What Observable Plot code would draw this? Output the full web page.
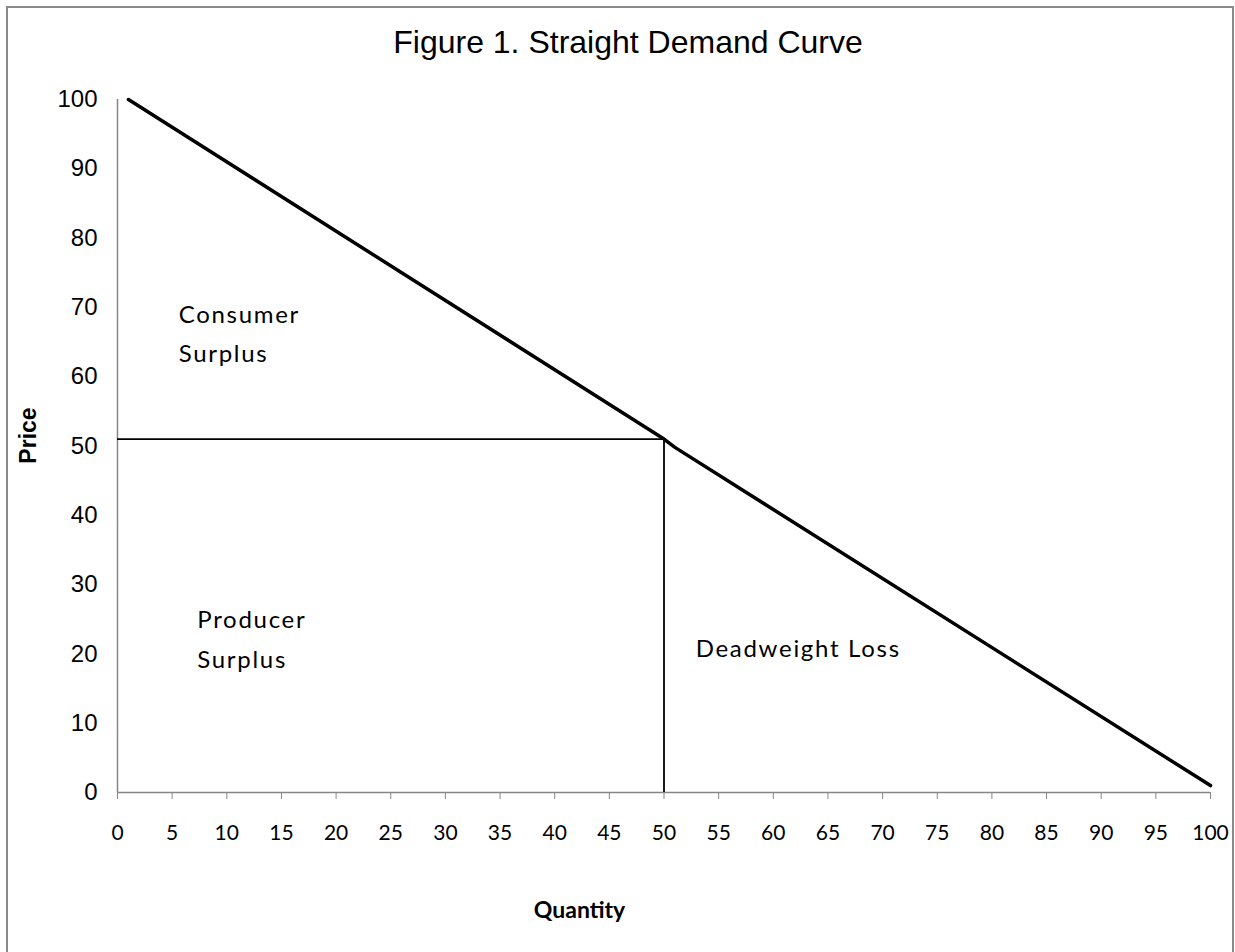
<!DOCTYPE html>
<html><head><meta charset="utf-8">
<script src="https://cdn.jsdelivr.net/npm/d3@7"></script>
<script src="https://cdn.jsdelivr.net/npm/@observablehq/plot@0.6"></script>
<style>
body{margin:0;background:#fff;}
#wrap{position:relative;width:1235px;height:952px;overflow:hidden;background:#fff;}
#frame{position:absolute;left:6px;top:6px;width:1228px;height:1000px;border:2px solid #8a8a8a;box-sizing:border-box;pointer-events:none;}
#title{position:relative;height:70px;}
#title div{position:absolute;left:0;width:1256px;top:26px;text-align:center;font-family:"Liberation Sans",Arial,sans-serif;font-size:32px;line-height:1;color:#000;}
#chart svg{display:block;}
#chart svg text.region{letter-spacing:1.7px;}
</style>
</head><body>
<div id="wrap">
  <div id="title"><div>Figure 1. Straight Demand Curve</div></div>
  <div id="chart"></div>
  <div id="frame"></div>
</div>
<script>
// Demand curve points (Quantity, Price)
const demandQ = [1, 50, 51, 100];
const demandP = [100, 51, 49.8, 1];
// Equilibrium / quota point
const eqQ = 50;
const eqP = 51;
// Tick labels
const xTicks = [0,5,10,15,20,25,30,35,40,45,50,55,60,65,70,75,80,85,90,95,100];
const yTicks = [0,10,20,30,40,50,60,70,80,90,100];
// Region annotation texts and their anchor points in data units
const labelTexts = ["Consumer", "Surplus", "Producer", "Surplus", "Deadweight Loss"];
const labelQ = [5.6, 5.6, 7.3, 7.3, 52.9];
const labelP = [67.8, 62.1, 23.8, 18.0, 19.5];

const demand = demandQ.map((q, i) => ({q, p: demandP[i]}));
const labels = labelTexts.map((t, i) => ({t, q: labelQ[i], p: labelP[i]}));

const chart = Plot.plot({
  width: 1235, height: 882,
  marginLeft: 117, marginRight: 25, marginTop: 29, marginBottom: 160,
  x: {domain: [0, 100]},
  y: {domain: [0, 100]},
  style: {fontFamily: "Lato", background: "transparent", color: "#000"},
  marks: [
    Plot.ruleX([0], {stroke: "#868686", strokeWidth: 1.5}),
    Plot.ruleY([0], {stroke: "#868686", strokeWidth: 1.5}),
    Plot.axisY({ticks: yTicks, tickSize: 0, tickPadding: 20, fontSize: 24, fontFamily: "Liberation Sans", label: null, fill: "#000"}),
    Plot.axisX({ticks: xTicks, tickSize: 7, tickPadding: 26, fontSize: 21, fontFamily: "Lato", stroke: "#868686", label: null, fill: "#000", tickFormat: d => String(d)}),
    Plot.ruleY([eqP], {x1: 0, x2: eqQ, stroke: "#000", strokeWidth: 1.8}),
    Plot.ruleX([eqQ], {y1: 0, y2: eqP, stroke: "#000", strokeWidth: 1.8}),
    Plot.line(demand, {x: "q", y: "p", stroke: "#000", strokeWidth: 3.5, strokeLinejoin: "round"}),
    Plot.text(labels, {x: "q", y: "p", text: "t", textAnchor: "start", lineAnchor: "bottom", fontSize: 24, fontFamily: "Lato", fill: "#000", className: "region"}),
    Plot.text(["Price"], {text: d => d, frameAnchor: "left", textAnchor: "middle", dx: -89, dy: -10.5, rotate: -90, fontWeight: "bold", fontSize: 23, fontFamily: "Liberation Sans", fill: "#000"}),
    Plot.text(["Quantity"], {text: d => d, frameAnchor: "bottom", textAnchor: "middle", dx: -84.5, dy: 125, lineAnchor: "bottom", fontWeight: "bold", fontSize: 23, fontFamily: "Lato", fill: "#000"})
  ]
});
chart.querySelectorAll("g.region text, text.region").forEach(t => t.setAttribute("letter-spacing", "1.7"));
chart.querySelectorAll("g.region").forEach(g => g.setAttribute("letter-spacing", "1.7"));
document.getElementById("chart").appendChild(chart);
</script>
</body></html>
